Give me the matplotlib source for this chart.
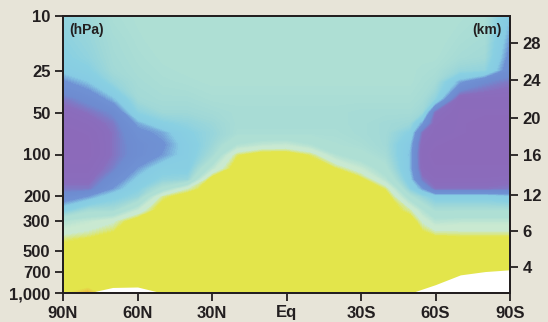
import numpy as np
import matplotlib
matplotlib.use('Agg')
import matplotlib.pyplot as plt
from matplotlib.colors import LinearSegmentedColormap, Normalize
from matplotlib.ticker import NullLocator

plt.rcParams['font.family'] = ['Liberation Sans', 'DejaVu Sans']
plt.rcParams['font.weight'] = 'bold'

BG = '#e7e4d8'
INK = '#231f20'

# grid of the field
lat = [90, 80, 70, 60, 50, 40, 30, 20, 10, 0, -10, -20, -30, -40, -50, -55, -60, -70, -80, -90]
pres = [10, 15, 20, 25, 30, 40, 50, 60, 70, 85, 100, 125, 150, 175, 200, 250, 300, 400, 500, 700, 850, 1000]

# colour class, one profile per latitude (10 hPa -> 1000 hPa)
# 0 orange, 1 yellow, 2 pale, 3 teal, 4 cyan, 5 blue, 6 purple
profiles = [
    [3.7, 3.8, 3.9, 4.2, 4.7, 5.5, 5.9, 6.1, 6.2, 6.2, 6.2, 6.0, 5.8, 5.5, 5.0, 4.0, 2.6, 1.6, 1.0, 1.0, 1.0, 0.6],
    [3.5, 3.6, 3.7, 3.9, 4.3, 5.1, 5.6, 5.9, 6.1, 6.2, 6.2, 6.0, 5.8, 5.5, 4.6, 3.3, 2.3, 1.4, 1.0, 1.0, 0.9, 0.0],
    [3.2, 3.3, 3.35, 3.4, 3.6, 4.4, 5.2, 5.5, 5.6, 5.6, 5.6, 5.4, 5.0, 4.6, 4.0, 3.3, 1.9, 1.1, 1.0, 1.0, 1.0, 1.0],
    [3.1, 3.15, 3.2, 3.25, 3.3, 3.4, 3.8, 4.5, 4.8, 5.0, 5.0, 4.6, 4.2, 3.9, 3.6, 2.2, 1.0, 1.0, 1.0, 1.0, 1.0, 1.0],
    [3.0, 3.05, 3.1, 3.15, 3.2, 3.3, 3.45, 3.9, 4.5, 4.7, 4.6, 4.0, 3.7, 3.0, 1.6, 1.0, 1.0, 1.0, 1.0, 1.0, 1.0, 1.0],
    [3.0, 3.0, 3.05, 3.1, 3.15, 3.3, 3.45, 3.7, 3.9, 4.1, 4.1, 4.0, 3.6, 1.8, 1.0, 1.0, 1.0, 1.0, 1.0, 1.0, 1.0, 1.0],
    [3.0, 3.0, 3.0, 3.05, 3.1, 3.2, 3.35, 3.5, 3.6, 3.5, 3.3, 2.4, 1.0, 1.0, 1.0, 1.0, 1.0, 1.0, 1.0, 1.0, 1.0, 1.0],
    [3.0, 3.0, 3.0, 3.05, 3.1, 3.2, 3.25, 3.25, 3.2, 2.6, 1.5, 1.0, 1.0, 1.0, 1.0, 1.0, 1.0, 1.0, 1.0, 1.0, 1.0, 1.0],
    [3.0, 3.0, 3.0, 3.05, 3.1, 3.2, 3.25, 3.25, 3.2, 2.3, 1.0, 1.0, 1.0, 1.0, 1.0, 1.0, 1.0, 1.0, 1.0, 1.0, 1.0, 1.0],
    [3.0, 3.0, 3.0, 3.05, 3.1, 3.2, 3.25, 3.25, 3.2, 2.2, 1.0, 1.0, 1.0, 1.0, 1.0, 1.0, 1.0, 1.0, 1.0, 1.0, 1.0, 1.0],
    [3.0, 3.0, 3.0, 3.05, 3.1, 3.2, 3.25, 3.25, 3.2, 2.6, 1.5, 1.0, 1.0, 1.0, 1.0, 1.0, 1.0, 1.0, 1.0, 1.0, 1.0, 1.0],
    [3.0, 3.0, 3.0, 3.05, 3.1, 3.2, 3.25, 3.25, 3.2, 3.1, 2.6, 1.4, 1.0, 1.0, 1.0, 1.0, 1.0, 1.0, 1.0, 1.0, 1.0, 1.0],
    [3.0, 3.0, 3.0, 3.05, 3.1, 3.2, 3.3, 3.3, 3.3, 3.2, 3.0, 2.2, 1.2, 1.0, 1.0, 1.0, 1.0, 1.0, 1.0, 1.0, 1.0, 1.0],
    [3.0, 3.0, 3.0, 3.05, 3.1, 3.2, 3.3, 3.4, 3.4, 3.4, 3.3, 3.0, 2.5, 1.5, 1.0, 1.0, 1.0, 1.0, 1.0, 1.0, 1.0, 1.0],
    [3.0, 3.0, 3.05, 3.1, 3.1, 3.2, 3.3, 3.5, 3.9, 4.3, 4.4, 4.4, 4.2, 3.8, 3.0, 1.7, 1.0, 1.0, 1.0, 1.0, 1.0, 1.0],
    [3.0, 3.05, 3.1, 3.15, 3.2, 3.3, 3.5, 4.6, 5.6, 5.9, 6.0, 5.9, 5.5, 4.6, 3.6, 2.6, 1.9, 1.0, 1.0, 1.0, 1.0, 1.0],
    [3.0, 3.05, 3.1, 3.2, 3.3, 3.7, 5.6, 5.9, 6.0, 6.1, 6.2, 6.1, 5.9, 5.6, 4.0, 3.2, 2.5, 1.2, 1.0, 1.0, 1.0, 1.0],
    [3.1, 3.2, 3.3, 3.6, 4.5, 6.0, 6.1, 6.1, 6.1, 6.2, 6.2, 6.1, 5.9, 5.6, 4.0, 3.2, 2.4, 1.3, 1.0, 1.0, 1.0, 1.0],
    [3.2, 3.3, 3.4, 3.7, 5.2, 6.0, 6.1, 6.2, 6.2, 6.2, 6.2, 6.1, 5.9, 5.6, 4.0, 3.2, 2.4, 1.3, 1.0, 1.0, 1.0, 1.0],
    [4.3, 4.6, 4.8, 5.0, 5.5, 6.0, 6.1, 6.2, 6.2, 6.2, 6.2, 6.1, 5.8, 5.5, 4.2, 3.2, 2.4, 1.3, 1.0, 1.0, 1.0, 1.0],
]

# ground (white) surface pressure
ground_lat = [90, 80, 70, 60, 50, 40, -40, -50, -60, -70, -80, -90]
ground_p = [1000, 1000, 912, 905, 1000, 1000, 1000, 1000, 870, 740, 700, 680]

xtick_pos = [90, 60, 30, 0, -30, -60, -90]
xtick_lab = ['90N', '60N', '30N', 'Eq', '30S', '60S', '90S']
ptick_pos = [10, 25, 50, 100, 200, 300, 500, 700, 1000]
ptick_lab = ['10', '25', '50', '100', '200', '300', '500', '700', '1,000']
km_pos = [15.7, 29, 54.5, 101, 196, 357, 649]
km_lab = ['28', '24', '20', '16', '12', '6', '4']

anchors = [
    (0.0, '#eea63c'), (0.6, '#e3e54b'), (1.4, '#e3e54b'), (1.85, '#c9e9d1'),
    (2.15, '#c9e9d1'), (2.7, '#aedfd4'), (3.1, '#aedfd4'), (3.45, '#a0d8d7'),
    (3.85, '#89d0e2'), (4.3, '#86cbe3'), (4.65, '#6f92d4'), (5.25, '#6e8bd0'),
    (5.7, '#8a6dbd'), (6.2, '#8c6aba'),
]
cmap = LinearSegmentedColormap.from_list('field', [(v / 6.2, c) for v, c in anchors])

fig = plt.figure(figsize=(5.48, 3.22), dpi=100, facecolor=BG)
ax = fig.add_axes([63 / 548, 29 / 322, 447 / 548, 277 / 322])

Z = np.array(profiles).T
ax.contourf(lat, pres, Z, levels=np.arange(-0.025, 6.3, 0.05), cmap=cmap,
            norm=Normalize(0, 6.2), antialiased=False)
ax.fill_between(ground_lat, ground_p, 1000, color='white', lw=0)

ax.set_yscale('log')
ax.set_xlim(90, -90)
ax.set_ylim(1000, 10)
ax.set_xticks(xtick_pos, xtick_lab)
ax.set_yticks(ptick_pos, ptick_lab)
ax.yaxis.set_minor_locator(NullLocator())

ax2 = ax.twinx()
ax2.set_yscale('log')
ax2.set_ylim(1000, 10)
ax2.set_yticks(km_pos, km_lab)
ax2.yaxis.set_minor_locator(NullLocator())

for a in (ax, ax2):
    a.tick_params(direction='out', length=6, width=1.3, colors=INK, labelsize=12, pad=3)
    for s in a.spines.values():
        s.set_linewidth(1.4)
        s.set_color(INK)

ax.text(0.014, 0.975, '(hPa)', transform=ax.transAxes, ha='left', va='top',
        fontsize=10, color=INK)
ax.text(0.982, 0.975, '(km)', transform=ax.transAxes, ha='right', va='top',
        fontsize=10, color=INK)

fig.savefig('out.png', dpi=100, facecolor=BG)
